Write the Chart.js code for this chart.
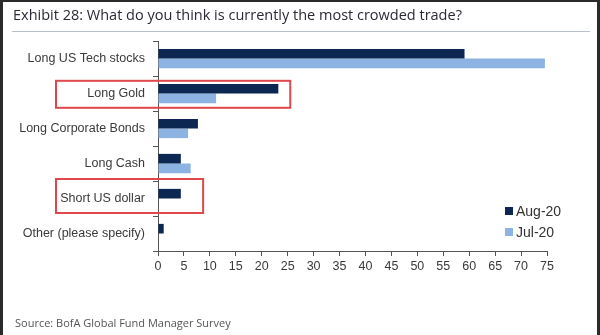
<!DOCTYPE html>
<html>
<head>
<meta charset="utf-8">
<script src="https://cdn.jsdelivr.net/npm/chart.js@4/dist/chart.umd.min.js"></script>
<style>
  html, body { margin: 0; padding: 0; background: #fff; }
  #wrap { position: relative; width: 600px; height: 335px; overflow: hidden; background: #fff; }
  #frameL { position: absolute; left: 0; top: 0; width: 3px; height: 335px; background: #2b2b2b; }
  #frameR { position: absolute; right: 0; top: 0; width: 3px; height: 335px; background: #2b2b2b; }
  #frameT { position: absolute; left: 0; top: 0; width: 600px; height: 2px; background: #2b2b2b; }
  #title { position: absolute; left: 13px; top: 5px; font-family: "Open Sans", sans-serif; font-size: 14.5px; color: #2a2a35; white-space: nowrap; }
  #rule { position: absolute; left: 12px; top: 31px; width: 578px; height: 1px; background: #b9c0cc; }
  #source { position: absolute; left: 15px; top: 315px; font-family: "Open Sans", sans-serif; font-size: 11px; color: #555; white-space: nowrap; }
  #chart { position: absolute; left: 0; top: 0; }
  #legend { position: absolute; left: 505px; top: 201px; font-family: "Liberation Sans", Arial, sans-serif; font-size: 14px; color: #333; line-height: 21px; }
  #legend span.sw { display: inline-block; width: 8px; height: 8px; margin-right: 3px; vertical-align: 1px; }
</style>
</head>
<body>
<div id="wrap">
  <canvas id="chart" width="600" height="335"></canvas>
  <div id="frameL"></div><div id="frameR"></div><div id="frameT"></div>
  <div id="title">Exhibit 28: What do you think is currently the most crowded trade?</div>
  <div id="rule"></div>
  <div id="legend"></div>
  <div id="source">Source: BofA Global Fund Manager Survey</div>
</div>
<script>
const categories = ['Long US Tech stocks', 'Long Gold', 'Long Corporate Bonds', 'Long Cash', 'Short US dollar', 'Other (please specify)'];
const seriesNames = ['Aug-20', 'Jul-20'];
const aug20 = [59.1, 23.2, 7.7, 4.4, 4.4, 1.1];
const jul20 = [74.6, 11.2, 5.8, 6.3, 0, 0];
const xTicks = [0, 5, 10, 15, 20, 25, 30, 35, 40, 45, 50, 55, 60, 65, 70, 75];
const highlightCats = ['Long Gold', 'Short US dollar'];
const highlightEnds = [25.5, 8.7];

const colors = ['#0c2852', '#8db3e2'];
const labelFont = { family: '"Liberation Sans", Arial, sans-serif', size: 12.5 };

// HTML legend (real text)
const leg = document.getElementById('legend');
seriesNames.forEach((n, i) => {
  const d = document.createElement('div');
  d.innerHTML = '<span class="sw" style="background:' + colors[i] + '"></span>' + n;
  leg.appendChild(d);
});

const boxPlugin = {
  id: 'boxes',
  afterDraw(chart) {
    const ctx = chart.ctx;
    const ys = chart.scales.y, xs = chart.scales.x;
    const heights = [27, 34];
    const offs = [0.8, -2.5];
    ctx.save();
    ctx.strokeStyle = '#e0474c';
    ctx.lineWidth = 2;
    highlightCats.forEach((c, i) => {
      const idx = categories.indexOf(c);
      const cy = ys.getPixelForValue(idx) + offs[i];
      const right = xs.getPixelForValue(highlightEnds[i]);
      const h = heights[i];
      ctx.strokeRect(56, cy - h / 2, right - 56, h);
    });
    ctx.restore();
  }
};

new Chart(document.getElementById('chart'), {
  type: 'bar',
  data: {
    labels: categories,
    datasets: [
      { label: seriesNames[0], data: aug20, backgroundColor: colors[0], categoryPercentage: 0.55, barPercentage: 1.0 },
      { label: seriesNames[1], data: jul20, backgroundColor: colors[1], categoryPercentage: 0.55, barPercentage: 1.0 }
    ]
  },
  options: {
    indexAxis: 'y',
    responsive: false,
    animation: false,
    layout: { padding: { top: 41, left: 0, right: 53, bottom: 54 } },
    plugins: { legend: { display: false }, tooltip: { enabled: false } },
    scales: {
      y: {
        afterFit(s) { s.width = 158; },
        grid: { display: true, offset: true, drawOnChartArea: false, drawTicks: true, tickLength: 5, color: '#555', lineWidth: 1 },
        border: { display: true, color: '#555', width: 1 },
        ticks: { color: '#3a3a3a', font: labelFont, padding: 8 }
      },
      x: {
        min: 0, max: 75,
        afterFit(s) { s.height = 30; },
        afterBuildTicks(s) { s.ticks = xTicks.map(v => ({ value: v })); },
        grid: { display: true, drawOnChartArea: false, drawTicks: true, tickLength: 5, color: '#555', lineWidth: 1 },
        border: { display: true, color: '#555', width: 1 },
        ticks: { color: '#3a3a3a', font: labelFont, padding: 3, maxRotation: 0, autoSkip: false }
      }
    }
  },
  plugins: [boxPlugin]
});
</script>
</body>
</html>
